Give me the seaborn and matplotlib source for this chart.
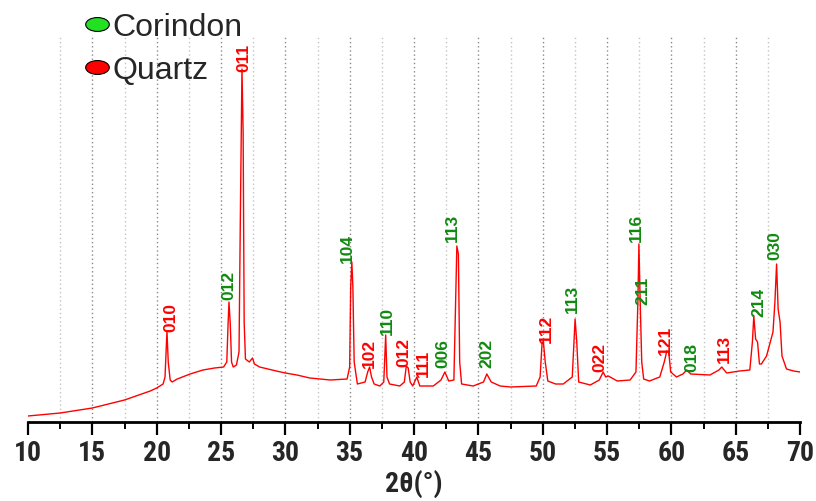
import numpy as np
import pandas as pd
import matplotlib
matplotlib.use('Agg')
import matplotlib.pyplot as plt
import seaborn as sns
from matplotlib import font_manager as fm
from matplotlib.lines import Line2D
from matplotlib.markers import MarkerStyle
from matplotlib.transforms import Affine2D

# XRD pattern (2theta in degrees, intensity in a.u.)
two_theta = [10.0, 12.5, 15.0, 17.5, 19.5, 20.0, 20.5, 20.65, 20.8, 20.9, 21.05, 21.2,
             21.6, 22.6, 23.6, 24.5, 25.2, 25.45, 25.55, 25.62, 25.72, 25.82, 25.95,
             26.2, 26.4, 26.5, 26.63, 26.72, 26.8, 26.9, 27.2, 27.45, 27.6, 28.0, 29.3,
             30.0, 30.9, 31.9, 33.5, 34.8, 35.0, 35.08, 35.17, 35.25, 35.35, 35.6, 36.2,
             36.4, 36.55, 36.7, 36.9, 37.35, 37.65, 37.8, 37.9, 38.1, 38.9, 39.25, 39.4,
             39.55, 39.7, 39.9, 40.22, 40.45, 41.5, 42.1, 42.4, 42.7, 43.1, 43.25, 43.33,
             43.45, 43.55, 43.7, 44.6, 45.4, 45.66, 46.0, 46.7, 47.5, 49.5, 49.8, 49.95,
             50.05, 50.2, 50.4, 51.0, 51.6, 52.3, 52.52, 52.65, 52.8, 53.7, 54.4, 54.7,
             54.9, 55.1, 55.8, 56.8, 57.25, 57.4, 57.48, 57.58, 57.7, 57.85, 58.3, 59.1,
             59.45, 59.65, 59.8, 59.95, 60.4, 60.9, 61.2, 61.5, 63.0, 63.7, 63.92, 64.3,
             65.3, 66.1, 66.3, 66.41, 66.55, 66.7, 66.85, 67.0, 67.4, 67.9, 68.05, 68.18,
             68.3, 68.45, 68.6, 68.95, 69.5, 70.0]
intensity = [6, 9, 14, 22, 31, 34, 38, 45, 91, 60, 42, 40,
             43, 48, 52, 54, 55, 60, 98, 120, 98, 60, 55,
             57, 70, 200, 353, 290, 100, 63, 60, 64, 58, 55, 51,
             49, 47, 44, 42, 43, 55, 135, 160, 135, 60, 38, 40,
             50, 55, 45, 38, 36, 40, 87, 45, 38, 36, 40, 56,
             54, 40, 36, 45, 36, 36, 42, 50, 41, 42, 130, 176,
             168, 60, 38, 36, 40, 48, 40, 36, 35, 36, 45, 78,
             81, 60, 41, 38, 38, 45, 103, 80, 40, 37, 42, 50,
             45, 46, 41, 42, 50, 120, 178, 120, 60, 43, 41, 45,
             60, 71, 70, 50, 45, 48, 52, 48, 47, 52, 55, 49,
             51, 52, 80, 106, 83, 80, 58, 58, 66, 90, 120, 158,
             113, 100, 66, 53, 51, 50]

# peak labels (Miller indices), their position and phase
peak_labels = ['010', '012', '011', '104', '102', '110', '012', '111', '006', '113',
               '202', '112', '113', '022', '116', '211', '121', '018', '113', '214', '030']
peak_x = [21.1, 25.6, 26.8, 34.8, 36.5, 37.9, 39.2, 40.7, 42.25, 43.0,
          45.7, 50.25, 52.3, 54.45, 57.25, 57.8, 59.55, 61.6, 64.1, 66.8, 68.05]
peak_y = [91, 123, 351, 160, 55, 88, 56, 46, 55, 181,
          55, 80, 110, 51, 181, 118, 68, 51, 60, 106, 163]
peak_phase = ['Quartz', 'Corindon', 'Quartz', 'Corindon', 'Quartz', 'Corindon', 'Quartz',
              'Quartz', 'Corindon', 'Corindon', 'Corindon', 'Quartz', 'Corindon', 'Quartz',
              'Corindon', 'Corindon', 'Quartz', 'Corindon', 'Quartz', 'Corindon', 'Corindon']

phase_text_color = {'Corindon': '#118a11', 'Quartz': '#ff0000'}
phase_marker_color = {'Corindon': '#22e022', 'Quartz': '#ff0000'}

df = pd.DataFrame({'two_theta': two_theta, 'intensity': intensity})

sns.set_style('white')
plt.rcParams['font.family'] = ['Liberation Sans', 'DejaVu Sans']

# narrow bold font for the axis numbers, if one is installed
axis_font = fm.FontProperties(family=['Liberation Sans', 'DejaVu Sans'], weight='bold', size=20)
for wanted in ['Liberation Sans Narrow', 'Arial Narrow', 'Roboto Condensed', 'Open Sans Condensed']:
    if any(f.name == wanted for f in fm.fontManager.ttflist):
        axis_font = fm.FontProperties(family=wanted, weight='bold', size=20)
        break
else:
    cond = [f for f in fm.fontManager.ttflist
            if f.stretch in ('condensed', 'semi-condensed') and 'Sans' in f.name]
    if cond:
        axis_font = fm.FontProperties(family=cond[0].name, stretch='condensed',
                                      weight='bold', size=20)

fig = plt.figure(figsize=(8.16, 5.02), dpi=100)
ax = fig.add_axes([28 / 816, 79 / 502, 772 / 816, 386 / 502])

sns.lineplot(data=df, x='two_theta', y='intensity', color='#ff0000', lw=1.0,
             estimator=None, ax=ax)

for lab, x, y, ph in zip(peak_labels, peak_x, peak_y, peak_phase):
    ax.text(x, y, lab, rotation=90, ha='center', va='bottom', fontsize=12.5,
            fontweight='bold', color=phase_text_color[ph])

ax.set_xlim(10, 70)
ax.set_ylim(0, 386)
ax.set_xticks(np.arange(10, 71, 5))
ax.set_xticks(np.arange(12.5, 70, 5), minor=True)
for v in np.arange(12.5, 70, 2.5):
    major = abs(v % 5) < 1e-9
    ax.axvline(v, color='#8a8a8a' if major else '#c4c4c4', lw=1.0,
               ls=(0, (1, 2)), zorder=0)

ax.set_yticks([])
ax.set_ylabel('')
for s in ['left', 'right', 'top']:
    ax.spines[s].set_visible(False)
ax.spines['bottom'].set_linewidth(2.0)
ax.spines['bottom'].set_color('black')
ax.tick_params(axis='x', which='major', direction='out', length=9, width=1.6,
               color='black', bottom=True, pad=3)
ax.tick_params(axis='x', which='minor', direction='out', length=5, width=1.4,
               color='black', bottom=True)
for t in ax.get_xticklabels():
    t.set_fontproperties(axis_font)
ax.set_xlabel('2θ(°)', fontproperties=axis_font, labelpad=2)

handles = [Line2D([], [], linestyle='none',
                  marker=MarkerStyle('o', transform=Affine2D().scale(1.7, 1.0)),
                  markersize=10, markerfacecolor=phase_marker_color[p],
                  markeredgecolor='black', markeredgewidth=0.8)
           for p in ['Corindon', 'Quartz']]
fig.legend(handles, ['Corindon', 'Quartz'], loc='upper left',
           bbox_to_anchor=(84 / 816, 1 - 13 / 502), frameon=False, fontsize=23,
           handlelength=0.8, handletextpad=0.08, labelspacing=0.42,
           borderpad=0.0, borderaxespad=0.0)

fig.savefig('out.png', dpi=100)
